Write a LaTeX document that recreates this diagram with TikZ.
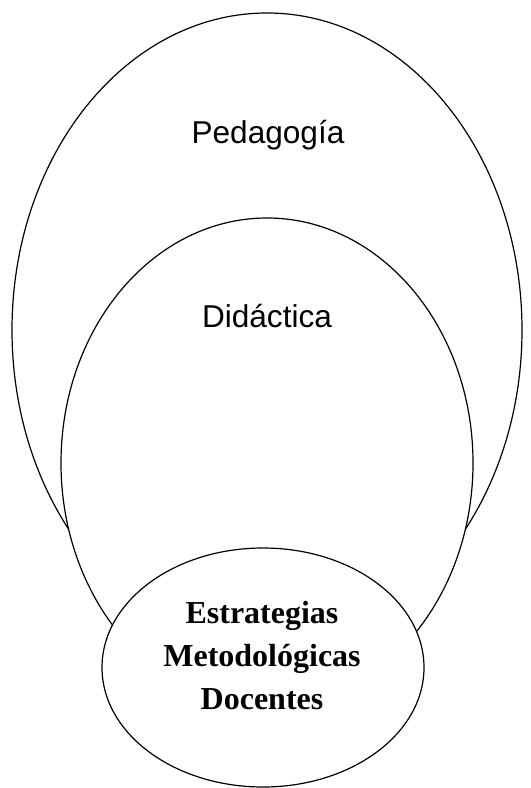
\documentclass[tikz,border=0pt]{standalone}
\usepackage{fontspec}
\setmainfont{Liberation Serif}
\setsansfont{Liberation Sans}
\usetikzlibrary{shapes.geometric}
\tikzstyle{ring} = [ellipse, draw, fill=white, line width=0.9pt, inner sep=0pt]
\tikzstyle{title} = [font=\sffamily\fontsize{23.7}{28}\selectfont, anchor=base]
\tikzstyle{core} = [font=\bfseries\fontsize{24}{32.25}\selectfont, align=center]

\begin{document}
\begin{tikzpicture}[x=0.75pt, y=-0.75pt]
		\useasboundingbox (0,0) rectangle (531,788);
		% draw the ellipses from the outside in
		\node [ring, minimum width=382.5pt, minimum height=475.5pt] (pedagogia) at (267,330) {};
		\node [ring, minimum width=309pt, minimum height=367.5pt] (didactica) at (267,463) {};
		\node [ring, minimum width=241.5pt, minimum height=179.25pt] (estrategias) at (263,667.5) {};

		% then the texts
		\node [title] (pedtext) at (268,143) {Pedagogía};
		\node [title] (didtext) at (267,327) {Didáctica};
		\node [core] (esttext) at (262,656) {Estrategias\\Metodológicas\\Docentes};
	\end{tikzpicture}
\end{document}
